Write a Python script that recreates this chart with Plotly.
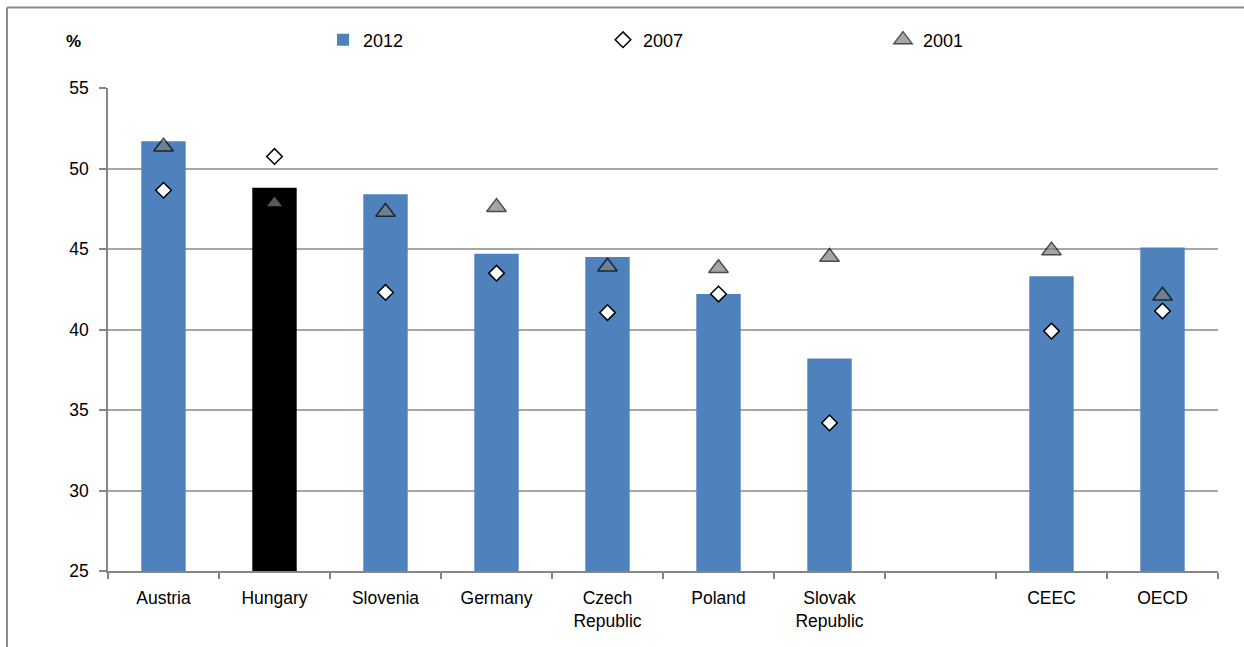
import plotly.graph_objects as go

# Categories along the x axis (blank slot separates countries from aggregates)
categories = ["Austria", "Hungary", "Slovenia", "Germany", "Czech<br>Republic",
              "Poland", "Slovak<br>Republic", " ", "CEEC", "OECD"]

# Share of GDP, %
values_2012 = [51.7, 48.8, 48.4, 44.7, 44.5, 42.2, 38.2, None, 43.3, 45.1]
values_2007 = [48.65, 50.75, 42.3, 43.5, 41.05, 42.2, 34.2, None, 39.9, 41.15]
values_2001 = [51.35, 47.85, 47.3, 47.6, 43.9, 43.8, 44.5, None, 44.9, 42.1]

y_ticks = [25, 30, 35, 40, 45, 50, 55]

BLUE = "#4F81BD"
GREY = "#7F7F7F"
AXIS = "#868686"
GRID = "#A6A6A6"
FONT = "Liberation Sans, Arial, sans-serif"

bar_colors = ["#000000" if c == "Hungary" else BLUE for c in categories]
tri_sizes = [13 if c == "Hungary" else 17 for c in categories]
tri_line = [0 if c == "Hungary" else 1.5 for c in categories]

fig = go.Figure()

fig.add_trace(go.Bar(
    x=categories, y=values_2012, name="2012",
    marker=dict(color=bar_colors, line=dict(width=0)),
))

fig.add_trace(go.Scatter(
    x=categories, y=values_2007, name="2007", mode="markers",
    marker=dict(symbol="diamond", size=12, color="white",
                line=dict(color="black", width=1.5)),
))

fig.add_trace(go.Scatter(
    x=categories, y=values_2001, name="2001", mode="markers",
    marker=dict(symbol="triangle-up", size=tri_sizes, color=GREY,
                line=dict(color="black", width=tri_line)),
))

# Outer chart frame: top and left edges
frame_top = (571 - 7.5) / 483
frame_left = (7 - 108) / 1110
fig.add_shape(type="line", xref="paper", yref="paper",
              x0=frame_left, x1=1.1, y0=frame_top, y1=frame_top,
              line=dict(color="#8C8C8C", width=2), layer="above")
fig.add_shape(type="line", xref="paper", yref="paper",
              x0=frame_left, x1=frame_left, y0=-0.3, y1=frame_top,
              line=dict(color="#8C8C8C", width=2), layer="above")

fig.add_annotation(text="<b>%</b>", xref="paper", yref="paper",
                   x=(73 - 108) / 1110, y=(571 - 42) / 483,
                   xanchor="center", yanchor="middle",
                   showarrow=False, font=dict(size=17, color="black", family=FONT))

fig.update_layout(
    width=1244, height=647,
    margin=dict(l=108, r=26, t=88, b=76),
    plot_bgcolor="white", paper_bgcolor="white",
    font=dict(family=FONT, size=17.5, color="black"),
    bargap=0.6,
    showlegend=True,
    legend=dict(orientation="h", x=(323 - 108) / 1110, xanchor="left",
                y=(571 - 40) / 483, yanchor="middle",
                entrywidth=235, entrywidthmode="pixels", itemwidth=30,
                font=dict(size=18, family=FONT), bgcolor="rgba(0,0,0,0)",
                traceorder="normal"),
    xaxis=dict(
        type="category", range=[-0.5, 9.5],
        showline=True, linecolor=AXIS, linewidth=1.5,
        ticks="outside", tickson="boundaries", ticklen=6, tickcolor=AXIS, tickwidth=1.5,
        showgrid=False, tickfont=dict(size=17.5), ticklabelstandoff=10,
    ),
    yaxis=dict(
        range=[25, 55], tickvals=y_ticks,
        showline=True, linecolor=AXIS, linewidth=1.5,
        ticks="outside", ticklen=7, tickcolor=AXIS, tickwidth=1.5,
        showgrid=True, gridcolor=GRID, gridwidth=1.5,
        tickfont=dict(size=17.5), ticklabelstandoff=7, zeroline=False,
    ),
)

fig.write_html("out.html")
